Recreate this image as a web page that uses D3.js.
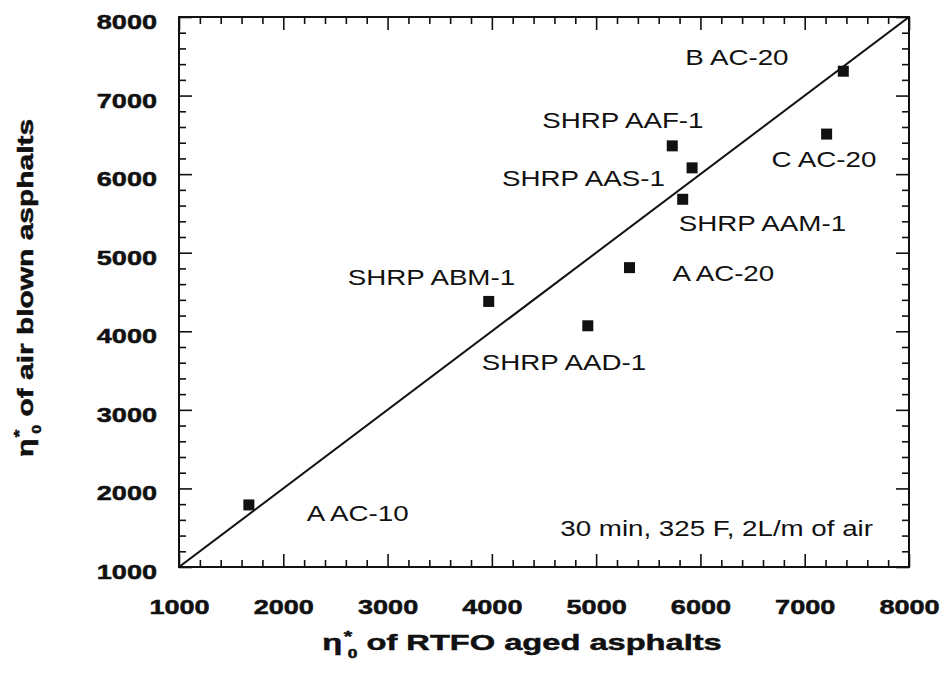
<!DOCTYPE html>
<html>
<head>
<meta charset="utf-8">
<script src="https://cdn.jsdelivr.net/npm/d3@7/dist/d3.min.js"></script>
<style>
  html, body { margin: 0; padding: 0; background: #fff; }
  svg { display: block; }
  text { font-family: "Liberation Sans", Arial, Helvetica, sans-serif; fill: #111; }
</style>
</head>
<body>
<svg id="chart" width="941" height="673"></svg>
<script>
// Asphalt samples and their zero-shear viscosities
const categories = ["A AC-10", "SHRP ABM-1", "SHRP AAD-1", "A AC-20", "SHRP AAM-1",
                    "SHRP AAF-1", "SHRP AAS-1", "C AC-20", "B AC-20"];
const rtfoValues     = [1670, 3970, 4920, 5320, 5830, 5730, 5920, 7210, 7370];
const airBlownValues = [1790, 4380, 4070, 4810, 5680, 6360, 6080, 6510, 7310];

// Axis ticks
const xTickLabels = [1000, 2000, 3000, 4000, 5000, 6000, 7000, 8000];
const yTickLabels = [1000, 2000, 3000, 4000, 5000, 6000, 7000, 8000];
const minorStep = 200;

// Line of equality (x = y)
const equalityLine = [1000, 8000];

const annotation = "30 min, 325 F, 2L/m of air";

// Label placement relative to each marker (px)
const labelOffsets = [[58, 16], [-141, -16], [-106, 44], [43, 13], [-4, 32],
                      [-130, -18], [-190, 18], [-55, 33], [-158, -6]];

const margin = { left: 179, right: 32, top: 17, bottom: 106 };
const W = 941, H = 673;
const SX = 1.29; // horizontal stretch of the lettering

const svg = d3.select("#chart");
const x = d3.scaleLinear().domain([1000, 8000]).range([margin.left, W - margin.right]);
const y = d3.scaleLinear().domain([1000, 8000]).range([H - margin.bottom, margin.top]);

const minorTicks = d3.range(1000, 8001, minorStep).filter(v => v % 1000 !== 0);

function addAxis(axisFn, scale, transform, majorValues, labels) {
  const ax = axisFn(scale)
    .tickValues(majorValues || minorTicks)
    .tickSizeInner(majorValues ? -13 : -7)
    .tickSizeOuter(0)
    .tickFormat(labels ? d3.format("d") : () => "");
  const g = svg.append("g").attr("transform", transform).call(ax);
  g.select(".domain").remove();
  g.selectAll(".tick line").attr("stroke", "#111").attr("stroke-width", 1.6);
  return g;
}

const bottomY = y(1000), topY = y(8000), leftX = x(1000), rightX = x(8000);

// bottom & left carry labels; top & right only ticks
const gb = addAxis(d3.axisBottom, x, `translate(0,${bottomY})`, xTickLabels, true);
addAxis(d3.axisBottom, x, `translate(0,${bottomY})`, null, false);
const gl = addAxis(d3.axisLeft, y, `translate(${leftX},0)`, yTickLabels, true);
addAxis(d3.axisLeft, y, `translate(${leftX},0)`, null, false);
addAxis(d3.axisTop, x, `translate(0,${topY})`, xTickLabels, false);
addAxis(d3.axisTop, x, `translate(0,${topY})`, null, false);
addAxis(d3.axisRight, y, `translate(${rightX},0)`, yTickLabels, false);
addAxis(d3.axisRight, y, `translate(${rightX},0)`, null, false);

function boldLabel(sel) {
  sel.attr("dy", 0)
    .attr("font-size", 21).attr("font-weight", "bold")
    .attr("font-family", "Liberation Sans, Arial, sans-serif")
    .attr("fill", "#111").attr("stroke", "#111").attr("stroke-width", 0.5)
    .attr("transform", `scale(${SX},1)`);
}
gb.selectAll(".tick text").call(boldLabel).attr("y", 47);
gl.selectAll(".tick text").call(boldLabel).attr("x", -22 / SX).attr("y", 11.5);

// frame
svg.append("rect")
  .attr("x", leftX).attr("y", topY)
  .attr("width", rightX - leftX).attr("height", bottomY - topY)
  .attr("fill", "none").attr("stroke", "#111").attr("stroke-width", 2);

// clip for the equality line
svg.append("clipPath").attr("id", "plotClip")
  .append("rect").attr("x", leftX).attr("y", topY)
  .attr("width", rightX - leftX).attr("height", bottomY - topY);

svg.append("line")
  .attr("clip-path", "url(#plotClip)")
  .attr("x1", x(equalityLine[0])).attr("y1", y(equalityLine[0]))
  .attr("x2", x(equalityLine[1])).attr("y2", y(equalityLine[1]))
  .attr("stroke", "#111").attr("stroke-width", 2);

// markers
const pts = categories.map((c, i) => ({ name: c, xv: rtfoValues[i], yv: airBlownValues[i], off: labelOffsets[i] }));
const ms = 11;
svg.append("g").selectAll("rect").data(pts).join("rect")
  .attr("x", d => x(d.xv) - ms / 2).attr("y", d => y(d.yv) - ms / 2)
  .attr("width", ms).attr("height", ms).attr("fill", "#111");

// point labels
svg.append("g").selectAll("text").data(pts).join("text")
  .attr("transform", d => `translate(${x(d.xv) + d.off[0]},${y(d.yv) + d.off[1]}) scale(${SX},1)`)
  .attr("font-size", 21.5)
  .text(d => d.name);

// conditions note
svg.append("text")
  .attr("transform", `translate(873,536) scale(${SX},1)`)
  .attr("text-anchor", "end")
  .attr("font-size", 21.5)
  .text(annotation);

// axis titles with η*₀ symbol
function titleText(sel, rest) {
  sel.attr("font-weight", "bold").attr("font-size", 22.5).attr("text-anchor", "middle")
    .attr("stroke", "#111").attr("stroke-width", 0.5);
  sel.append("tspan").text("η");
  sel.append("tspan").attr("font-size", 15).attr("dy", -9).attr("dx", 1).text("*");
  sel.append("tspan").attr("font-size", 12).attr("dy", 17).attr("dx", -3).text("0");
  sel.append("tspan").attr("dy", -8).text(" " + rest);
}

svg.append("text")
  .attr("transform", `translate(522,650) scale(1.45,1)`)
  .call(titleText, "of RTFO aged asphalts");

svg.append("text")
  .attr("transform", `translate(33,288) rotate(-90) scale(1.33,1)`)
  .call(titleText, "of air blown asphalts");
</script>
</body>
</html>
